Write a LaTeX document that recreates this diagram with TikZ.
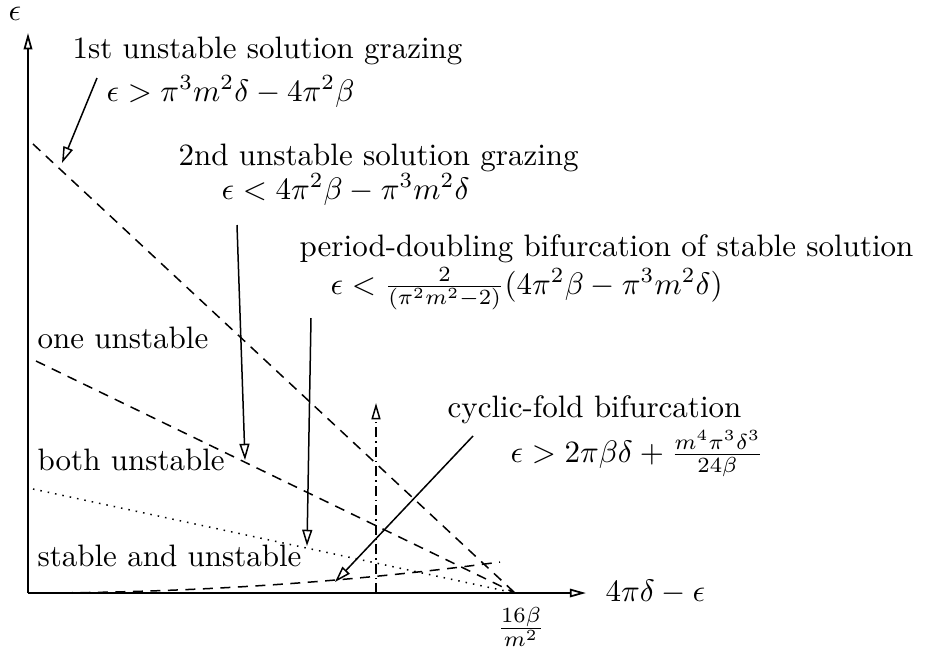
\documentclass[tikz,border=0pt]{standalone}
\usetikzlibrary{arrows.meta}
\begin{document}
\begin{tikzpicture}[x=0.4pt,y=-0.4pt,
  every node/.append style={scale=1.24},
  ax/.style={line width=0.7pt,-{Triangle[open,length=6.5pt,width=3.4pt]}},
  pointer/.style={line width=0.6pt,-{Triangle[open,length=6.5pt,width=4pt]}},
  bound/.style={line width=0.6pt,dash pattern=on 4pt off 3pt},
  dotline/.style={line width=0.6pt,dash pattern=on 0.6pt off 2.4pt},
  dashdotline/.style={line width=0.6pt,dash pattern=on 4pt off 1.6pt on 0.6pt off 1.6pt,-{Triangle[open,length=6.5pt,width=3.6pt]}},
  lbl/.style={anchor=base west,inner sep=0pt}]
\useasboundingbox (0,0) rectangle (928,655);
% axes
\coordinate (O) at (28,593);
\coordinate (ytip) at (28,33);
\coordinate (xtip) at (586,593);
\coordinate (P) at (515,593);
\draw[ax] (O) -- (ytip);
\draw[ax] (O) -- (xtip);
\node[anchor=center,inner sep=0pt] (ylab) at (15,14) {$\epsilon$};
\node[lbl] (xlab) at (605,601) {$4\pi\delta-\epsilon$};
\node[anchor=center,inner sep=0pt] (plab) at (521,627) {$\frac{16\beta}{m^2}$};
% boundary lines
\coordinate (A1) at (33,144);
\coordinate (A2) at (36,361);
\coordinate (A3) at (33,489);
\coordinate (C4) at (500,562);
\draw[bound] (A1) -- (P);
\draw[bound] (A2) -- (P);
\draw[dotline] (A3) -- (P);
\draw[bound] (O) .. controls (185,593) and (343,583) .. (C4);
\coordinate (V0) at (376,593);
\coordinate (V1) at (376,403);
\draw[dashdotline] (V0) -- (V1);
% region labels
\node[lbl] (r1) at (37,348) {one unstable};
\node[lbl] (r2) at (37,470) {both unstable};
\node[lbl] (r3) at (37,566) {stable and unstable};
% annotations
\node[lbl] (t1) at (72,58) {1st unstable solution grazing};
\node[lbl] (f1) at (106,101) {$\epsilon>\pi^3m^2\delta-4\pi^2\beta$};
\node[lbl] (t2) at (178,165) {2nd unstable solution grazing};
\node[lbl] (f2) at (221,199) {$\epsilon<4\pi^2\beta-\pi^3m^2\delta$};
\node[lbl] (t3) at (299,256) {period-doubling bifurcation of stable solution};
\node[lbl] (f3) at (330,294) {$\epsilon<\frac{2}{(\pi^2m^2-2)}(4\pi^2\beta-\pi^3m^2\delta)$};
\node[lbl] (t4) at (447,417) {cyclic-fold bifurcation};
\node[lbl] (f4) at (510,462) {$\epsilon>2\pi\beta\delta+\frac{m^4\pi^3\delta^3}{24\beta}$};
% pointers
\coordinate (a1s) at (97,78);   \coordinate (a1e) at (62,163);
\coordinate (a2s) at (237,225); \coordinate (a2e) at (245,460);
\coordinate (a3s) at (311,318); \coordinate (a3e) at (307,546);
\coordinate (a4s) at (473,436); \coordinate (a4e) at (335,582);
\draw[pointer] (a1s) -- (a1e);
\draw[pointer] (a2s) -- (a2e);
\draw[pointer] (a3s) -- (a3e);
\draw[pointer] (a4s) -- (a4e);
\end{tikzpicture}
\end{document}
